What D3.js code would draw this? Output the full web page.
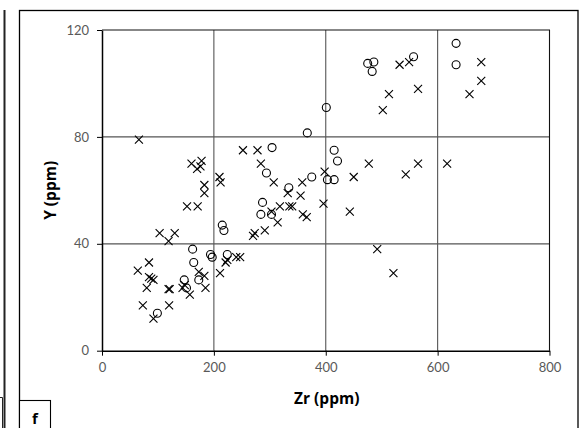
<!DOCTYPE html>
<html>
<head>
<meta charset="utf-8">
<script src="https://cdn.jsdelivr.net/npm/d3@7"></script>
<style>
  body { margin: 0; background: #fff; }
  svg { display: block; }
</style>
</head>
<body>
<svg id="chart" width="584" height="428"></svg>
<script>
// Zr (ppm), Y (ppm)
var crossZr = [66, 160, 170, 178, 176, 183, 183, 210, 212, 152, 171, 103, 130, 119, 84, 64, 84, 88, 92, 80,
  119, 121, 73, 120, 92, 144, 148, 157, 185, 173, 183, 211, 221, 224, 240, 247, 270, 273, 291, 303,
  318, 314, 335, 340, 332, 355, 359, 366, 358, 307, 396, 252, 278, 284, 398, 532, 549, 513, 565, 502,
  477, 450, 543, 565, 617, 443, 678, 678, 657, 492, 521];
var crossY = [79, 70, 68, 71, 69, 62, 59, 65, 63, 54, 54, 44, 44, 41, 33, 30, 27.5, 27, 26.5, 23.5,
  23, 23, 17, 17, 12, 23.5, 24.5, 21, 23.5, 29.5, 28, 29, 33, 34, 35, 35, 43, 44, 45, 52,
  54, 48, 54, 54, 59, 58, 51, 50, 63, 63, 55, 75, 75, 70, 67, 107, 108, 96, 98, 90,
  70, 65, 66, 70, 70, 52, 108, 101, 96, 38, 29];

var circleZr = [287, 284, 303, 334, 304, 294, 375, 403, 415, 415, 421, 367, 401, 215, 218, 162, 194, 197, 224, 164,
  173, 147, 151, 99, 475, 486, 483, 557, 633, 633];
var circleY = [55.5, 51, 51, 61, 76, 66.5, 65, 64, 64, 75, 71, 81.5, 91, 47, 45, 38, 36, 35, 36, 33,
  26.5, 26.5, 23.5, 14, 107.5, 108, 104.5, 110, 115, 107];

var xTicks = [0, 200, 400, 600, 800];
var yTicks = [0, 40, 80, 120];

var svg = d3.select("#chart");
var plotL = 102, plotR = 549.5, plotT = 30, plotB = 350.7;

var x = d3.scaleLinear().domain([0, 800]).range([plotL, plotR]);
var y = d3.scaleLinear().domain([0, 120]).range([plotB, plotT]);

// left-edge remains of the neighbouring panel
svg.append("line").attr("x1", 4.5).attr("x2", 4.5).attr("y1", 10).attr("y2", 428)
  .attr("stroke", "#222").attr("stroke-width", 2);
svg.append("path").attr("d", "M0,397.5H2.5V428").attr("fill", "none")
  .attr("stroke", "#222").attr("stroke-width", 1);

// panel frame
svg.append("rect").attr("x", 19.5).attr("y", 10.5).attr("width", 558.5).attr("height", 430)
  .attr("fill", "none").attr("stroke", "#000").attr("stroke-width", 1.3);

// grid
var grid = svg.append("g");
grid.selectAll(".gx").data([200, 400, 600]).enter().append("line")
  .attr("x1", function (d) { return x(d); }).attr("x2", function (d) { return x(d); })
  .attr("y1", plotT).attr("y2", plotB)
  .attr("stroke", "#555").attr("stroke-width", 1.1);
grid.selectAll(".gy").data([40, 80]).enter().append("line")
  .attr("x1", plotL).attr("x2", plotR)
  .attr("y1", function (d) { return y(d); }).attr("y2", function (d) { return y(d); })
  .attr("stroke", "#555").attr("stroke-width", 1.3);

// top / right border of plot
svg.append("path").attr("d", "M" + plotL + "," + plotT + "H" + plotR + "V" + plotB)
  .attr("fill", "none").attr("stroke", "#111").attr("stroke-width", 1.1);

// axes
var xAxis = svg.append("g").attr("transform", "translate(0," + plotB + ")")
  .call(d3.axisBottom(x).tickValues(xTicks).tickSize(5).tickPadding(7).tickSizeOuter(0));
var yAxis = svg.append("g").attr("transform", "translate(" + plotL + ",0)")
  .call(d3.axisLeft(y).tickValues(yTicks).tickSize(5).tickPadding(8).tickSizeOuter(0));

[xAxis, yAxis].forEach(function (a) {
  a.select(".domain").attr("stroke", "#000").attr("stroke-width", 1.5);
  a.selectAll(".tick line").attr("stroke", "#000").attr("stroke-width", 1);
  a.selectAll("text").attr("fill", "#595959")
    .style("font-family", "Lato, 'Open Sans', sans-serif").style("font-size", "13px");
});

// axis titles
svg.append("text")
  .attr("x", (plotL + plotR) / 2 + 1).attr("y", 404)
  .attr("text-anchor", "middle")
  .style("font-family", "'Open Sans', Lato, sans-serif").style("font-size", "15.5px").style("font-weight", "bold")
  .text("Zr (ppm)");

svg.append("text")
  .attr("transform", "translate(56," + ((plotT + plotB) / 2) + ") rotate(-90)")
  .attr("text-anchor", "middle")
  .style("font-family", "'Open Sans', Lato, sans-serif").style("font-size", "15.5px").style("font-weight", "bold")
  .text("Y (ppm)");

// crosses
var s = 4;
svg.append("g").selectAll("path")
  .data(crossZr)
  .enter()
  .append("path")
  .attr("d", function (d, i) {
    var cx = x(d), cy = y(crossY[i]);
    return "M" + (cx - s) + "," + (cy - s) + "L" + (cx + s) + "," + (cy + s) +
      "M" + (cx - s) + "," + (cy + s) + "L" + (cx + s) + "," + (cy - s);
  })
  .attr("stroke", "#000").attr("stroke-width", 1.1).attr("fill", "none");

// circles
svg.append("g").selectAll("circle")
  .data(circleZr)
  .enter()
  .append("circle")
  .attr("cx", function (d) { return x(d); })
  .attr("cy", function (d, i) { return y(circleY[i]); })
  .attr("r", 4)
  .attr("fill", "none").attr("stroke", "#000").attr("stroke-width", 1.1);

// panel letter box
svg.append("rect").attr("x", 19.5).attr("y", 400.5).attr("width", 31).attr("height", 40)
  .attr("fill", "#fff").attr("stroke", "#000").attr("stroke-width", 1.1);
svg.append("text").attr("x", 35).attr("y", 424)
  .attr("text-anchor", "middle")
  .style("font-family", "'Open Sans', Lato, sans-serif").style("font-size", "15px").style("font-weight", "bold")
  .text("f");
</script>
</body>
</html>
